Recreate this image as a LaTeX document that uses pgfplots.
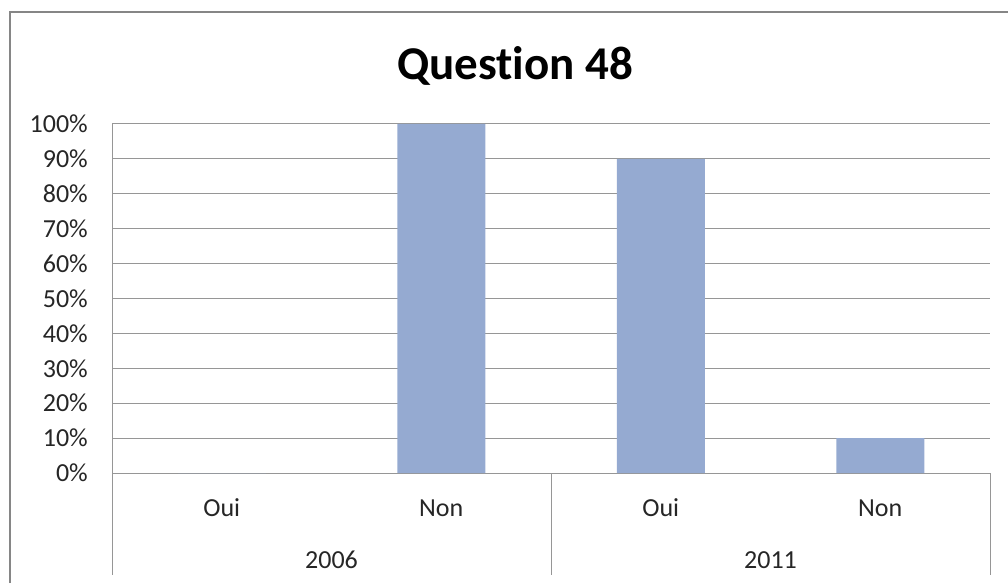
\documentclass[border=0pt]{standalone}
\usepackage{fontspec}
\setmainfont{Carlito}[Ligatures=NoCommon]
\usepackage{pgfplots}
\pgfplotsset{compat=1.18}
\definecolor{barblue}{RGB}{149,170,209}
\definecolor{gridgray}{RGB}{150,150,150}
\definecolor{framegray}{RGB}{134,134,134}
\begin{document}
\begin{tikzpicture}
\path[use as bounding box] (0,0) rectangle (1008pt,583pt);
\draw[framegray, line width=2pt] (10pt,0) -- (10pt,571pt) -- (1008pt,571pt);
\node[anchor=base, font=\fontsize{47}{56}\selectfont\bfseries] at (515pt,503pt) {Question 48};
\begin{axis}[
    at={(112pt,110pt)}, anchor=south west,
    scale only axis,
    width=878pt, height=349pt,
    xmin=-0.5, xmax=3.5,
    ymin=0, ymax=100,
    axis lines*=left,
    axis line style={gridgray, line width=1pt},
    ymajorgrids,
    major grid style={gridgray, line width=1pt},
    major tick length=0pt,
    xtick={0,1,2,3},
    xticklabels={Oui,Non,Oui,Non},
    ytick={0,10,...,100},
    yticklabels={0\%,10\%,20\%,30\%,40\%,50\%,60\%,70\%,80\%,90\%,100\%},
    tick label style={font=\fontsize{26}{30}\selectfont, text=black!85},
    yticklabel style={anchor=east, inner sep=0pt, xshift=-24pt},
    xticklabel style={anchor=base, inner sep=0pt, yshift=-43pt},
    clip=false,
]
\addplot[ybar, bar width=88pt, fill=barblue, draw=none] coordinates {
    (0,0) (1,100) (2,90) (3,10)
};
\draw[gridgray, line width=1pt] (axis cs:-0.5,0) -- ([yshift=-102pt]axis cs:-0.5,0);
\draw[gridgray, line width=1pt] (axis cs:1.5,0) -- ([yshift=-102pt]axis cs:1.5,0);
\draw[gridgray, line width=1pt] (axis cs:3.5,0) -- ([yshift=-102pt]axis cs:3.5,0);
\node[anchor=base, font=\fontsize{26}{30}\selectfont, text=black!85] at ([yshift=-95pt]axis cs:0.5,0) {2006};
\node[anchor=base, font=\fontsize{26}{30}\selectfont, text=black!85] at ([yshift=-95pt]axis cs:2.5,0) {2011};
\end{axis}
\end{tikzpicture}
\end{document}
